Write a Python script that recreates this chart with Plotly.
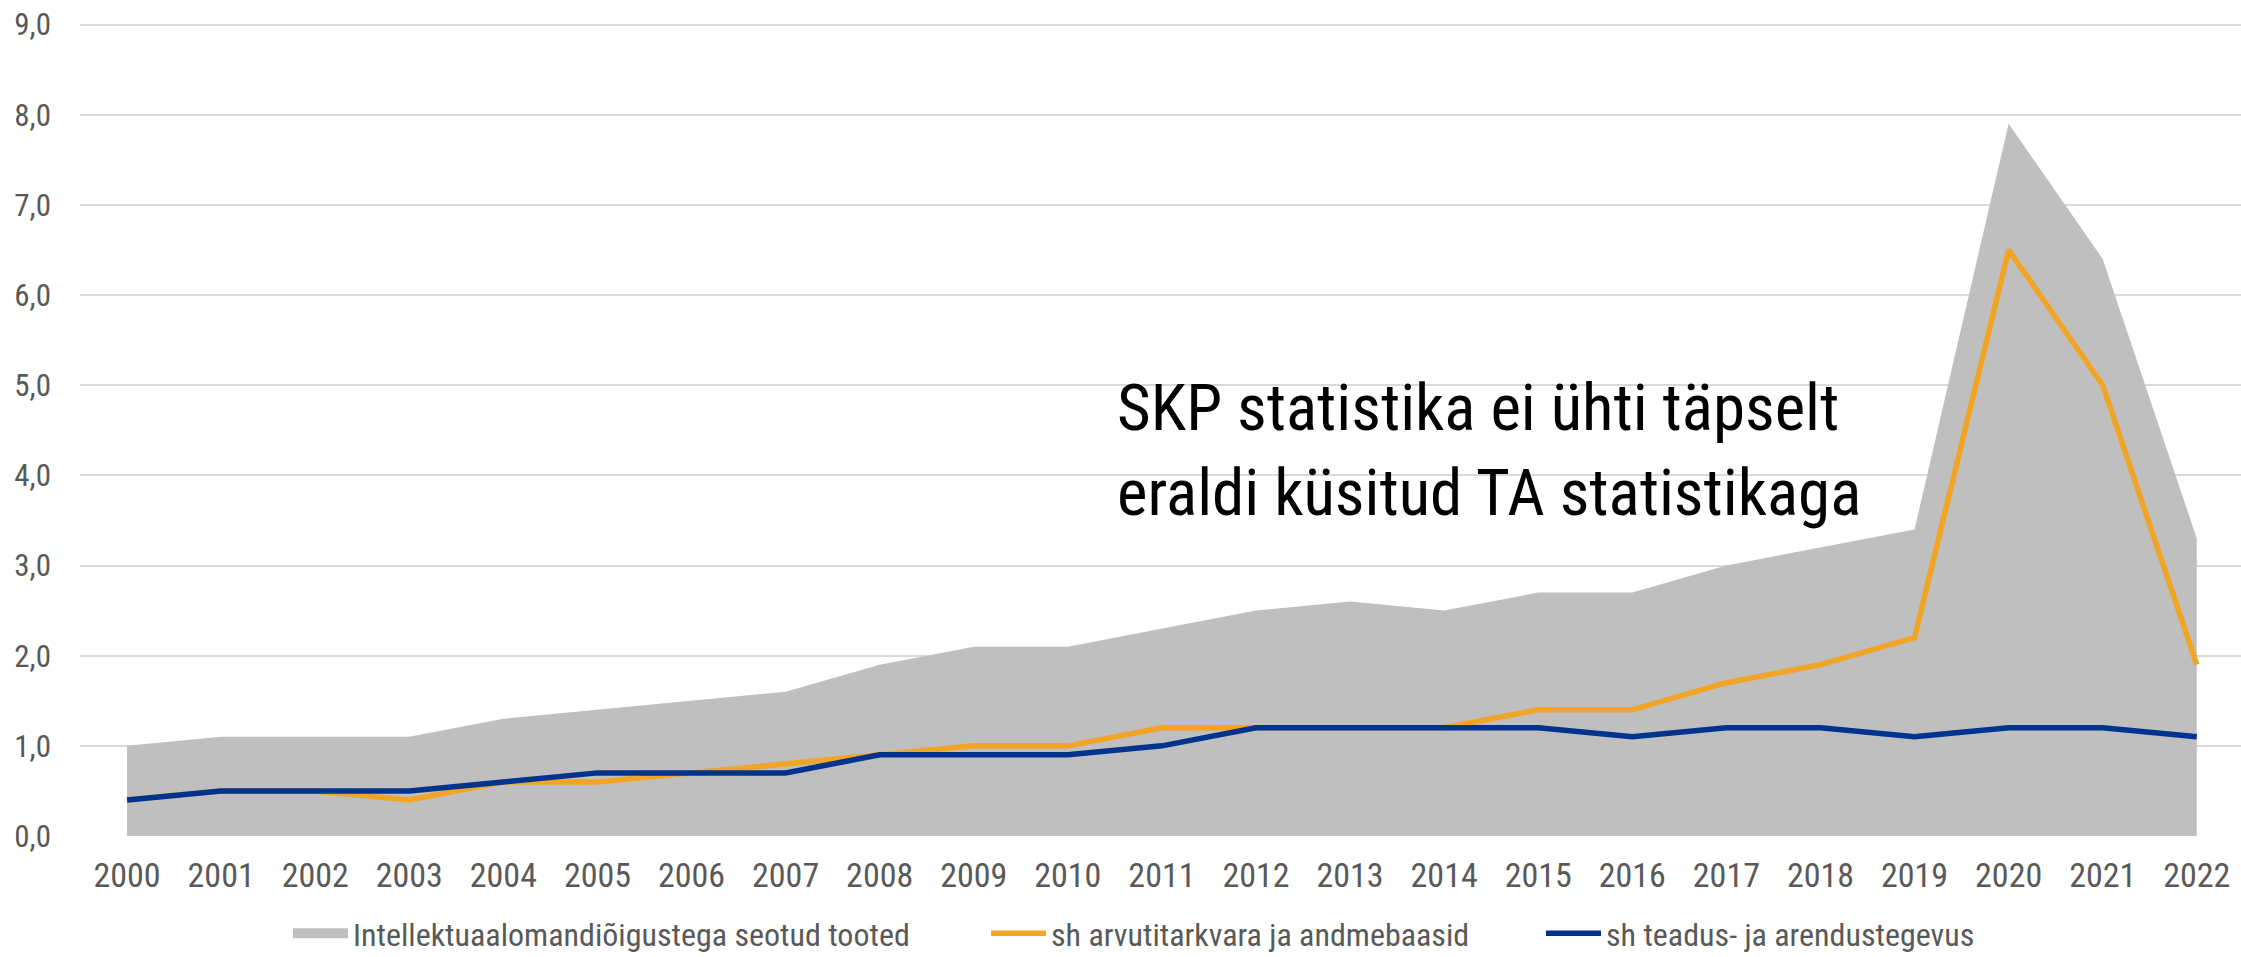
import plotly.graph_objects as go

years = list(range(2000, 2023))
total_ip = [1.0, 1.1, 1.1, 1.1, 1.3, 1.4, 1.5, 1.6, 1.9, 2.1, 2.1, 2.3, 2.5, 2.6, 2.5, 2.7, 2.7, 3.0, 3.2, 3.4, 7.9, 6.4, 3.3]
software = [0.4, 0.5, 0.5, 0.4, 0.6, 0.6, 0.7, 0.8, 0.9, 1.0, 1.0, 1.2, 1.2, 1.2, 1.2, 1.4, 1.4, 1.7, 1.9, 2.2, 6.5, 5.0, 1.9]
rnd = [0.4, 0.5, 0.5, 0.5, 0.6, 0.7, 0.7, 0.7, 0.9, 0.9, 0.9, 1.0, 1.2, 1.2, 1.2, 1.2, 1.1, 1.2, 1.2, 1.1, 1.2, 1.2, 1.1]
y_ticks = [0, 1, 2, 3, 4, 5, 6, 7, 8, 9]
y_tick_labels = ["0,0", "1,0", "2,0", "3,0", "4,0", "5,0", "6,0", "7,0", "8,0", "9,0"]
names = ["Intellektuaalomandiõigustega seotud tooted", "sh arvutitarkvara ja andmebaasid", "sh teadus- ja arendustegevus"]
note = "SKP statistika ei ühti täpselt<br>eraldi küsitud TA statistikaga"

FONT = "Roboto Condensed, Liberation Sans Narrow, Arial Narrow, Roboto, sans-serif"
GRAY_TXT = "#595959"
GRAY_FILL = "#BFBFBF"

L, R, T, B = 80, 0, 20, 121
W, H = 2241, 957
PW = W - L - R
PH = H - T - B

fig = go.Figure()
fig.add_trace(go.Scatter(x=years, y=total_ip, name=names[0], mode="lines",
                         line=dict(width=0, color=GRAY_FILL), fill="tozeroy",
                         fillcolor=GRAY_FILL, showlegend=False))
# legend key for the area (thick grey block)
fig.add_trace(go.Scatter(x=[None], y=[None], name=names[0], mode="lines",
                         line=dict(width=18, color=GRAY_FILL), legend="legend"))
fig.add_trace(go.Scatter(x=years, y=software, name=names[1], mode="lines",
                         line=dict(width=5.5, color="#F2A424"), legend="legend2"))
fig.add_trace(go.Scatter(x=years, y=rnd, name=names[2], mode="lines",
                         line=dict(width=5.5, color="#00338D"), legend="legend3"))

leg_common = dict(orientation="h", yanchor="bottom", y=-(B + 4) / PH, xanchor="left",
                  font=dict(family=FONT, size=32, color=GRAY_TXT),
                  bgcolor="rgba(0,0,0,0)", itemwidth=55)

fig.update_layout(
    width=W, height=H,
    margin=dict(l=L, r=R, t=T, b=B, autoexpand=False),
    paper_bgcolor="white", plot_bgcolor="white",
    font=dict(family=FONT, size=31, color=GRAY_TXT),
    showlegend=True,
    legend=dict(x=(288 - L) / PW, **leg_common),
    legend2=dict(x=(986 - L) / PW, **leg_common),
    legend3=dict(x=(1541 - L) / PW, **leg_common),
    xaxis=dict(range=[1999.5, 2022.47], tickvals=years, ticktext=[str(y) for y in years],
               showgrid=False, zeroline=False, showline=False, ticks="",
               ticklabelstandoff=16, tickfont=dict(family=FONT, size=34, color=GRAY_TXT)),
    yaxis=dict(range=[0, 9.05], tickvals=y_ticks, ticktext=y_tick_labels,
               showgrid=True, gridcolor="#D9D9D9", gridwidth=2,
               zeroline=False, showline=False, ticks="",
               ticklabelstandoff=28, tickfont=dict(family=FONT, size=31, color=GRAY_TXT)),
    annotations=[dict(text=note, xref="paper", yref="y", x=(1115 - L) / PW, y=4.28,
                      xanchor="left", yanchor="middle", align="left", showarrow=False,
                      font=dict(family=FONT, size=65, color="black"))],
)

fig.write_html("out.html", config={"displayModeBar": False},
               post_script="document.body.style.margin='0';document.body.style.overflow='hidden';")
